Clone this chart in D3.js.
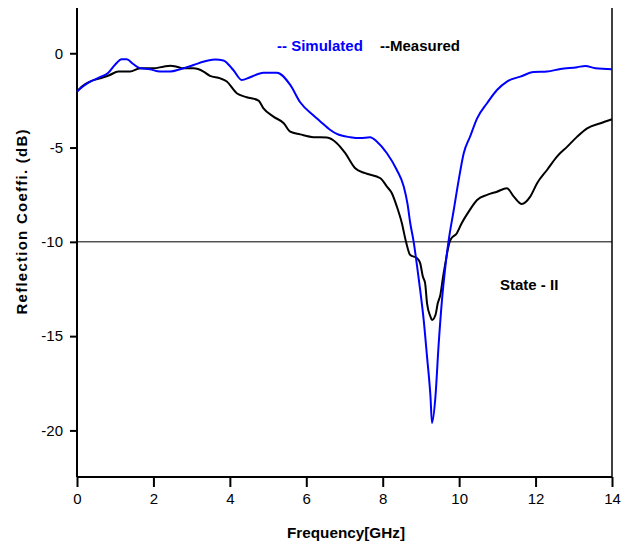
<!DOCTYPE html>
<html><head><meta charset="utf-8">
<script src="https://cdn.jsdelivr.net/npm/d3@7"></script>
<style>body{margin:0;background:#fff}svg{display:block}</style>
</head><body><svg id="c" width="626" height="546"></svg>
<script>
const simFreq = [0,0.21,0.38,0.6,0.82,0.99,1.17,1.3,1.47,1.65,1.91,2.17,2.44,2.7,3.05,3.4,3.62,3.83,4.09,4.31,4.53,4.88,5.23,5.58,5.84,6.19,6.36,6.63,6.8,7.15,7.41,7.67,7.85,8.11,8.37,8.55,8.65,8.72,8.81,8.9,8.98,9.07,9.16,9.25,9.29,9.38,9.46,9.55,9.64,9.72,9.86,9.99,10.12,10.29,10.47,10.73,10.99,11.25,11.6,11.95,12.3,12.65,13.09,13.3,13.57,14];
const simDb = [-2.03,-1.68,-1.47,-1.27,-1.03,-0.62,-0.32,-0.32,-0.57,-0.8,-0.85,-0.97,-0.97,-0.85,-0.62,-0.4,-0.33,-0.38,-0.89,-1.42,-1.27,-1.03,-1.03,-1.68,-2.6,-3.3,-3.6,-4.07,-4.28,-4.45,-4.5,-4.45,-4.69,-5.3,-6.19,-7.07,-8.0,-9.0,-10,-11.3,-12.55,-14.1,-16.1,-18.2,-19.6,-18.2,-15.55,-13.1,-11.3,-10,-8.3,-6.7,-5.3,-4.4,-3.45,-2.65,-1.95,-1.5,-1.24,-1.0,-0.97,-0.83,-0.74,-0.67,-0.8,-0.85];
const measFreq = [0,0.12,0.34,0.6,0.86,1.08,1.39,1.65,2.0,2.26,2.44,2.61,2.78,3.05,3.31,3.48,3.75,3.92,4.18,4.44,4.75,4.88,5.14,5.41,5.58,5.84,6.19,6.54,6.8,7.02,7.28,7.54,7.94,8.11,8.24,8.37,8.5,8.61,8.72,8.9,8.98,9.05,9.11,9.16,9.25,9.29,9.38,9.44,9.51,9.58,9.64,9.71,9.77,9.94,10.07,10.25,10.47,10.73,10.99,11.25,11.43,11.64,11.86,12.04,12.3,12.56,12.83,13.09,13.35,13.7,14];
const measDb = [-2.03,-1.77,-1.5,-1.33,-1.15,-0.97,-0.97,-0.8,-0.8,-0.71,-0.66,-0.71,-0.8,-0.8,-0.97,-1.2,-1.33,-1.5,-2.12,-2.33,-2.51,-2.92,-3.36,-3.71,-4.16,-4.3,-4.45,-4.47,-4.77,-5.3,-6.1,-6.36,-6.63,-7.07,-7.42,-8.13,-9.0,-10,-10.7,-10.87,-11.13,-11.84,-12.2,-13.26,-13.97,-14.14,-13.88,-13.26,-12.8,-11.84,-11.13,-10.34,-9.9,-9.54,-9.0,-8.4,-7.78,-7.51,-7.34,-7.16,-7.6,-7.99,-7.6,-6.89,-6.19,-5.48,-4.95,-4.42,-3.98,-3.71,-3.5];
const xTicks = [0,2,4,6,8,10,12,14];
const yTicks = [0,-5,-10,-15,-20];
const seriesNames = ["-- Simulated","--Measured"];
const refLevel = -10;
const annotation = "State - II";

const svg = d3.select("#c");
const L=77,R=612,T=8,B=477;
const x = d3.scaleLinear().domain([0,14]).range([L,R]);
const y = d3.scaleLinear().domain([-22.47,2.4]).range([B,T]);
const font = "'Liberation Sans', Arial, sans-serif";
const tickFont = "'Liberation Sans Narrow', 'Arial Narrow', 'Liberation Sans', Arial, sans-serif";

// axes
const xa = svg.append("g").attr("transform",`translate(0,${B})`)
  .call(d3.axisBottom(x).tickValues(xTicks).tickSize(10).tickPadding(6).tickFormat(d3.format("d")));
const ya = svg.append("g").attr("transform",`translate(${L},0)`)
  .call(d3.axisLeft(y).tickValues(yTicks).tickSize(7).tickPadding(7).tickFormat(d=>d===0?"0":"-"+Math.abs(d)));
[xa,ya].forEach(g=>{
  g.select(".domain").attr("stroke","#000").attr("stroke-width",2);
  g.selectAll(".tick line").attr("stroke","#000").attr("stroke-width",2);
  g.selectAll("text").attr("font-family",tickFont).attr("font-size",15).attr("fill","#000");
});
xa.select(".domain").attr("d",`M${L},0H${R}`);
ya.select(".domain").attr("d",`M0,${T}V${B}`);
// right border
svg.append("line").attr("x1",R).attr("x2",R).attr("y1",T).attr("y2",B).attr("stroke","#000").attr("stroke-width",1.5);
// -10 reference
svg.append("line").attr("x1",L).attr("x2",R).attr("y1",y(refLevel)).attr("y2",y(refLevel)).attr("stroke","#000").attr("stroke-width",1);

const line = d3.line().x(d=>x(d[0])).y(d=>y(d[1])).curve(d3.curveMonotoneX);
svg.append("path").datum(measFreq.map((f,i)=>[f,measDb[i]]))
  .attr("d",line).attr("fill","none").attr("stroke","#000").attr("stroke-width",2);
svg.append("path").datum(simFreq.map((f,i)=>[f,simDb[i]]))
  .attr("d",line).attr("fill","none").attr("stroke","#0000ff").attr("stroke-width",2);

// legend
svg.append("text").attr("x",277).attr("y",51).attr("font-family",font).attr("font-weight","bold").attr("font-size",15).attr("fill","#0000ff").text(seriesNames[0]);
svg.append("text").attr("x",380).attr("y",51).attr("font-family",font).attr("font-weight","bold").attr("font-size",15).attr("fill","#000").text(seriesNames[1]);
svg.append("text").attr("x",500).attr("y",290).attr("font-family",font).attr("font-weight","bold").attr("font-size",15).attr("fill","#000").text(annotation);

// titles
svg.append("text").attr("x",346).attr("y",538).attr("text-anchor","middle").attr("font-family",font).attr("font-weight","bold").attr("font-size",15)
  .attr("textLength",118).attr("lengthAdjust","spacingAndGlyphs").text("Frequency[GHz]");
svg.append("text").attr("transform","translate(27,222) rotate(-90)").attr("text-anchor","middle").attr("font-family",font).attr("font-weight","bold").attr("font-size",15)
  .attr("textLength",185).attr("lengthAdjust","spacing").text("Reflection Coeffi. (dB)");
</script></body></html>
